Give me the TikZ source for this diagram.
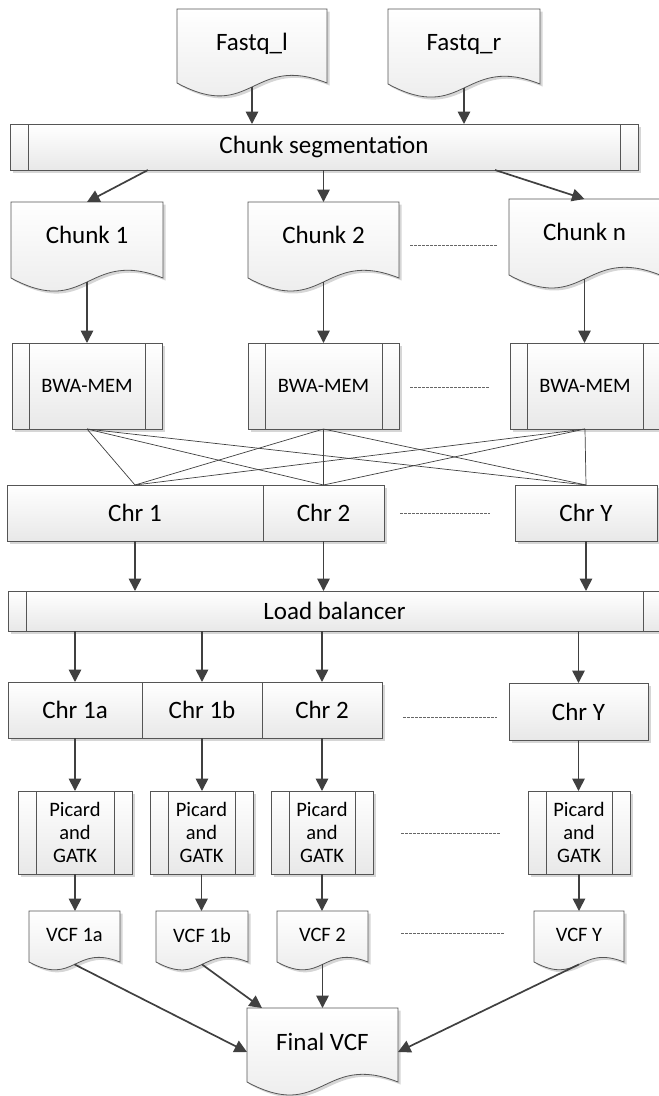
\documentclass[tikz,border=0pt]{standalone}
\usepackage{fontspec}
\setmainfont{Carlito}
\usetikzlibrary{shadows,arrows.meta}
\definecolor{ln}{HTML}{404040}
\definecolor{bd}{HTML}{555555}
\tikzset{
  box/.style={draw=bd, line width=0.8pt, top color=white, bottom color=black!9,
    drop shadow={shadow xshift=2.5pt, shadow yshift=-2.5pt, fill=black, opacity=0.16},
    inner sep=0pt, outer sep=0pt},
  docfill/.style={draw=bd, line width=0.8pt, top color=white, bottom color=black!9},
  bdline/.style={draw=bd, line width=0.8pt},
  arr/.style={draw=ln, line width=1.7pt, -{Triangle[length=12.5pt,width=12.5pt]}},
  cross/.style={draw=ln, line width=0.7pt},
  dline/.style={draw=black!60, line width=0.7pt, dash pattern=on 2.5pt off 1.5pt},
  big/.style={font=\fontsize{25}{29}\selectfont},
  small/.style={font=\fontsize{20.5}{23}\selectfont, align=center},
}
% process box: name, x1, y1, x2, y2, text, style, inset
\newcommand\pbox[8]{%
  \pgfmathsetmacro\bw{#4-#2}\pgfmathsetmacro\bh{#5-#3}%
  \node[box,#7,minimum width=\bw pt,minimum height=\bh pt] (#1) at ({(#2+#4)/2},{(#3+#5)/2}) {#6};
  \ifnum#8>0 \draw[bdline] (#2+#8,#3) -- (#2+#8,#5) (#4-#8,#3) -- (#4-#8,#5);\fi
}
% document shape: name, x1, y1, x2, yE, textY, text, style
\newcommand\dshape[8]{%
  \pgfmathsetmacro\dw{#4-#2}\pgfmathsetmacro\dad{0.27*\dw}\pgfmathsetmacro\dau{0.2*\dw}\pgfmathsetmacro\dmx{#2+0.5*\dw}%
  \fill[black,opacity=0.16,shift={(2.5,2.5)}] (#2,#3) -- (#4,#3) -- (#4,#5) .. controls (\dmx,#5-\dau) and (\dmx,#5+\dad) .. (#2,#5) -- cycle;
  \path[docfill] (#2,#3) -- (#4,#3) -- (#4,#5) .. controls (\dmx,#5-\dau) and (\dmx,#5+\dad) .. (#2,#5) -- cycle;
  \coordinate (#1-t) at (\dmx,#3);
  \coordinate (#1-b) at (\dmx,{#5+0.375*(\dad-\dau)});
  \coordinate (#1-l) at (#2,{#6+10});
  \coordinate (#1-r) at (#4,{#6+10});
  \node[#8] (#1) at (\dmx,#6) {#7};
}
\begin{document}
\begin{tikzpicture}[x=1pt,y=-1pt]
\useasboundingbox (0,0) rectangle (659,1096);
\fill[white] (0,0) rectangle (659,1096);

% inputs
\dshape{fql}{177}{9}{327}{83}{44}{Fastq\_l}{big}
\dshape{fqr}{388}{9}{540}{84}{44}{Fastq\_r}{big}
\pbox{seg}{10}{124}{638}{170}{Chunk segmentation}{big}{18}

% chunks
\dshape{ch1}{11}{202}{163}{278}{235}{Chunk 1}{big}
\dshape{ch2}{248}{202}{399}{278}{235}{Chunk 2}{big}
\dshape{chn}{509}{199}{660}{275}{232}{Chunk n}{big}

% BWA
\pbox{bw1}{12}{343}{162}{429}{BWA-MEM}{small}{17}
\pbox{bw2}{248}{343}{399}{429}{BWA-MEM}{small}{17}
\pbox{bwn}{510}{343}{660}{429}{BWA-MEM}{small}{17}

% chromosomes
\pbox{c1}{7}{485}{263}{541}{Chr 1}{big}{0}
\pbox{c2}{263}{485}{384}{541}{Chr 2}{big}{0}
\pbox{cy}{515}{485}{657}{541}{Chr Y}{big}{0}

% load balancer
\pbox{lb}{8}{591}{661}{631}{Load balancer}{big}{18}

% split chromosomes
\pbox{r1a}{8}{682}{142}{738}{Chr 1a}{big}{0}
\pbox{r1b}{142}{682}{262}{738}{Chr 1b}{big}{0}
\pbox{r2}{262}{682}{382}{738}{Chr 2}{big}{0}
\pbox{ry}{509}{683}{648}{740}{Chr Y}{big}{0}

% Picard and GATK
\pbox{p1}{18}{791}{132}{874}{Picard\\and\\GATK}{small}{18}
\pbox{p2}{150}{791}{253}{874}{Picard\\and\\GATK}{small}{18}
\pbox{p3}{271}{791}{373}{874}{Picard\\and\\GATK}{small}{18}
\pbox{py}{528}{791}{630}{874}{Picard\\and\\GATK}{small}{18}

% VCFs
\dshape{v1a}{29}{911}{120}{962}{935}{VCF 1a}{small}
\dshape{v1b}{156}{911}{248}{962}{935}{VCF 1b}{small}
\dshape{v2}{277}{911}{368}{962}{935}{VCF 2}{small}
\dshape{vy}{534}{911}{624}{962}{935}{VCF Y}{small}
\dshape{fv}{247}{1008}{398}{1082}{1042}{Final VCF}{big}

% connectors
\draw[arr] (fql-b) -- (fql-b |- seg.north);
\draw[arr] (fqr-b) -- (fqr-b |- seg.north);
\coordinate (segL) at (148,170);
\coordinate (segR) at (495,170);
\draw[arr] (segL) -- (ch1-t);
\draw[arr] (seg.south -| ch2-t) -- (ch2-t);
\draw[arr] (segR) -- (chn-t);
\foreach \c/\b in {ch1/bw1,ch2/bw2,chn/bwn}
  \draw[arr] (\c-b) -- (\c-b |- \b.north);
\foreach \b in {bw1,bw2,bwn}
  \foreach \c in {c1,c2,cy}
    \draw[cross] (\b.south) -- (\c.north);
\foreach \c in {c1,c2,cy}
  \draw[arr] (\c.south) -- (\c.south |- lb.north);
\foreach \r in {r1a,r1b,r2,ry}
  \draw[arr] (lb.south -| \r.north) -- (\r.north);
\foreach \r/\p in {r1a/p1,r1b/p2,r2/p3,ry/py}
  \draw[arr] (\r.south) -- (\r.south |- \p.north);
\foreach \p/\v in {p1/v1a,p2/v1b,p3/v2,py/vy}
  \draw[arr] (\p.south) -- (\p.south |- \v-t);
\coordinate (fvA) at (262,1008);
\draw[arr] (v1a-b) -- (fv-l);
\draw[arr] (v1b-b) -- (fvA);
\draw[arr] (v2-b) -- (v2-b |- fv-t);
\draw[arr] (vy-b) -- (fv-r);

% dashed ellipsis lines
\coordinate (d1a) at (410,245); \coordinate (d1b) at (497,245);
\coordinate (d2a) at (410,387); \coordinate (d2b) at (490,387);
\coordinate (d3a) at (400,513); \coordinate (d3b) at (490,513);
\coordinate (d4a) at (403,717); \coordinate (d4b) at (497,717);
\coordinate (d5a) at (401,833); \coordinate (d5b) at (500,833);
\coordinate (d6a) at (401,933); \coordinate (d6b) at (504,933);
\foreach \i in {1,...,6} \draw[dline] (d\i a) -- (d\i b);
\end{tikzpicture}
\end{document}
